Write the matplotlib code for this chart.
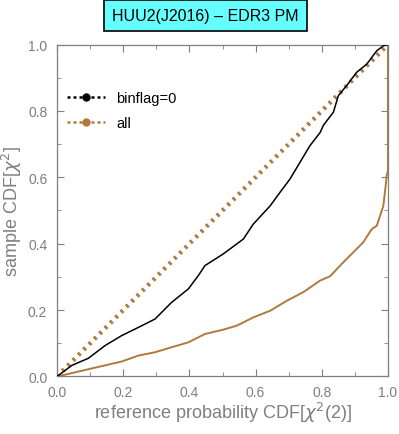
import matplotlib
matplotlib.use("Agg")
import matplotlib.pyplot as plt
from matplotlib.lines import Line2D
from matplotlib.ticker import MultipleLocator

plt.rcParams['font.family'] = ['Liberation Sans', 'DejaVu Sans']

# binflag=0 sample CDF
bin_x = [0.0, 0.044, 0.095, 0.145, 0.195, 0.246, 0.296, 0.346, 0.397, 0.427, 0.447, 0.502,
         0.563, 0.593, 0.644, 0.674, 0.704, 0.734, 0.764, 0.795, 0.805, 0.835, 0.850, 0.875,
         0.905, 0.936, 0.966, 0.986, 1.0]
bin_y = [0.0, 0.033, 0.055, 0.093, 0.123, 0.148, 0.173, 0.223, 0.264, 0.304, 0.334, 0.369,
         0.414, 0.459, 0.514, 0.555, 0.595, 0.645, 0.695, 0.735, 0.757, 0.796, 0.846, 0.876,
         0.916, 0.941, 0.981, 0.996, 1.0]
# all sample CDF
all_x = [0.0, 0.044, 0.095, 0.195, 0.246, 0.296, 0.346, 0.397, 0.447, 0.502, 0.543, 0.593,
         0.644, 0.694, 0.744, 0.795, 0.825, 0.865, 0.895, 0.925, 0.951, 0.966, 0.986, 0.993,
         0.996, 1.0, 1.0]
all_y = [0.0, 0.01, 0.022, 0.045, 0.063, 0.073, 0.088, 0.103, 0.128, 0.141, 0.153, 0.178,
         0.198, 0.228, 0.254, 0.289, 0.302, 0.344, 0.374, 0.404, 0.444, 0.454, 0.514, 0.575,
         0.605, 0.62, 1.0]
# reference diagonal
ref_x = [0.0, 1.0]
ref_y = [0.0, 1.0]

labels = ["binflag=0", "all"]
title = "HUU2(J2016) \u2013 EDR3 PM"

BROWN = '#b07a3e'
GRAY = '#7f7f7f'

fig = plt.figure(figsize=(3.99, 4.35), dpi=100)
ax = fig.add_axes([0.1429, 0.1322, 0.8295, 0.7632])

ax.plot(ref_x, ref_y, color=BROWN, lw=3.2, linestyle=(0, (0.6, 1.1)), dash_capstyle='butt', zorder=2)
ax.plot(all_x, all_y, color=BROWN, lw=1.4, zorder=3)
ax.plot(bin_x, bin_y, color='black', lw=1.1, zorder=4)

ax.set_xlim(0, 1)
ax.set_ylim(0, 1)
ax.xaxis.set_major_locator(MultipleLocator(0.2))
ax.yaxis.set_major_locator(MultipleLocator(0.2))
ax.xaxis.set_minor_locator(MultipleLocator(0.1))
ax.yaxis.set_minor_locator(MultipleLocator(0.1))
ax.xaxis.set_major_formatter(plt.FuncFormatter(lambda v, p: f"{v:.1f}"))
ax.yaxis.set_major_formatter(plt.FuncFormatter(lambda v, p: f"{v:.1f}"))
ax.tick_params(which='both', direction='in', top=True, right=True, color=GRAY,
               labelcolor=GRAY, labelsize=10)
ax.tick_params(which='major', length=5, width=0.8)
ax.tick_params(axis='x', which='major', pad=6)
ax.tick_params(axis='y', which='major', pad=7)
ax.tick_params(which='minor', length=3, width=0.6)
for s in ax.spines.values():
    s.set_color(GRAY)
    s.set_linewidth(0.9)

ax.set_xlabel("reference probability CDF[$\\chi^2$(2)]", color=GRAY, fontsize=13)
ax.set_ylabel("sample CDF[$\\chi^2$]", color=GRAY, fontsize=13)
ax.xaxis.set_label_coords(0.5, -0.107)
ax.yaxis.set_label_coords(-0.135, 0.5)
ax.xaxis.label.set_va('center')
ax.yaxis.label.set_va('center')

handles = [
    Line2D([0, 0.5, 1], [0, 0, 0], color='black', lw=1.8, linestyle=(0, (1.2, 1.2)), marker='o',
           markersize=5, markevery=[1]),
    Line2D([0, 0.5, 1], [0, 0, 0], color=BROWN, lw=1.8, linestyle=(0, (1.2, 1.2)), marker='o',
           markersize=5, markevery=[1]),
]
leg = ax.legend(handles, labels, loc='upper left', bbox_to_anchor=(-0.01, 0.9), frameon=False,
                fontsize=10.5, handlelength=2.6, labelspacing=0.75, handletextpad=0.8)

fig.text(0.515, 0.961, title, ha='center', va='center', fontsize=11.5, color='black',
         bbox=dict(boxstyle='square,pad=0.5', facecolor='#66ffff', edgecolor='black', lw=1.2))

fig.savefig('out.png', dpi=100)
